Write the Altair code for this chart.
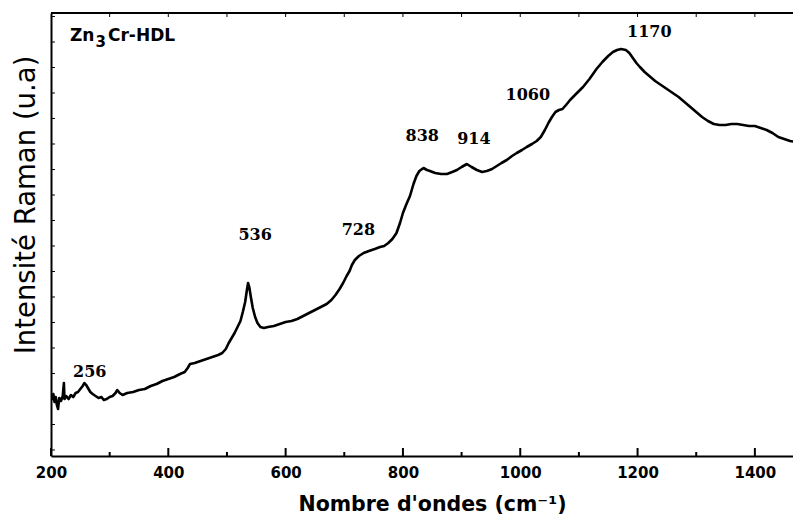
import altair as alt
import pandas as pd

# Raman spectrum (arbitrary intensity units)
wavenumber = [201, 204, 206, 208, 210, 212, 214, 217, 220, 222, 223, 226, 230, 234, 238, 242, 246, 250, 254, 257,
              260, 263, 267, 271, 276, 281, 286, 290, 295, 300, 305, 310, 313, 317, 322, 330, 340, 350, 360, 370,
              380, 390, 400, 410, 420, 428, 433, 437, 445, 455, 465, 475, 485, 492, 498, 503, 508, 513, 518, 523,
              527, 531, 534, 536, 538, 541, 544, 548, 552, 557, 563, 570, 580, 590, 600, 610, 620, 630, 640, 650,
              660, 670, 678, 685, 692, 698, 704, 709, 713, 718, 725, 733, 742, 752, 761, 768, 775, 782, 789, 795,
              800, 806, 812, 818, 823, 828, 835, 841, 846, 855, 865, 875, 884, 892, 900, 909, 917, 926, 935, 943,
              952, 960, 968, 977, 986, 994, 1003, 1011, 1020, 1028, 1035, 1042, 1048, 1054, 1060, 1066, 1072, 1078,
              1085, 1095, 1107, 1118, 1130, 1140, 1150, 1158, 1165, 1172, 1180, 1186, 1192, 1198, 1204, 1212, 1220,
              1230, 1240, 1250, 1260, 1270, 1280, 1290, 1300, 1310, 1320, 1330, 1340, 1350, 1360, 1370, 1380, 1390,
              1400, 1410, 1420, 1430, 1440, 1450, 1460, 1470, 1478]
intensity = [560, 620, 540, 590, 510, 470, 580, 550, 600, 730, 570, 600, 570, 610, 590, 630, 640, 670, 700, 730,
             710, 680, 640, 620, 600, 580, 590, 560, 570, 590, 600, 630, 660, 630, 610, 630, 640, 660, 670, 700,
             720, 750, 770, 790, 820, 840, 880, 920, 930, 950, 970, 990, 1010, 1030, 1070, 1130, 1180, 1230, 1290, 1350,
             1440, 1540, 1660, 1730, 1690, 1580, 1480, 1390, 1330, 1290, 1280, 1290, 1300, 1320, 1340, 1350, 1370, 1400, 1430, 1460,
             1490, 1520, 1560, 1610, 1670, 1730, 1800, 1850, 1910, 1960, 2000, 2030, 2050, 2070, 2090, 2100, 2130, 2170, 2230, 2330,
             2430, 2520, 2600, 2720, 2800, 2850, 2880, 2860, 2850, 2830, 2820, 2820, 2840, 2860, 2890, 2920, 2890, 2860, 2840, 2850,
             2870, 2900, 2930, 2960, 3000, 3030, 3060, 3090, 3120, 3150, 3190, 3260, 3330, 3390, 3440, 3460, 3470, 3510,
             3560, 3620, 3690, 3770, 3870, 3940, 4000, 4040, 4060, 4070, 4060, 4030, 3980, 3930, 3890, 3840, 3800,
             3750, 3710, 3670, 3630, 3590, 3540, 3490, 3440, 3390, 3350, 3320, 3310, 3310, 3320, 3320, 3310, 3300,
             3300, 3280, 3260, 3230, 3190, 3170, 3150, 3140, 3160]

peak_labels = ["256", "536", "728", "838", "914", "1060", "1170"]
peak_label_x = [266, 548, 724, 833, 921, 1013, 1220]
peak_label_y = [843, 2210, 2260, 3200, 3167, 3610, 4243]

x_major = [200, 400, 600, 800, 1000, 1200, 1400]
x_minor = [300, 500, 700, 900, 1100, 1300]
x_top = [300, 400, 500, 600, 700, 800, 900, 1000, 1100, 1200, 1300, 1400]
y_ticks = [60 + 255 * k for k in range(18)]

W, H = 742, 443
xs = alt.Scale(domain=[200, 1465], nice=False, zero=False)
ys = alt.Scale(domain=[0, 4430], nice=False, zero=False)

xaxis = alt.Axis(
    title="Nombre d'ondes (cm⁻¹)", values=x_major, format="d", ticks=False, tickSize=0, grid=False,
    domainColor="black", domainWidth=2, labelFont="DejaVu Sans", labelFontWeight="bold",
    labelFontSize=15, labelColor="black", labelPadding=9, labelFlush=False,
    titleFont="DejaVu Sans", titleFontSize=20.5, titleFontWeight="bold", titleColor="black",
    titleY=54, titleX=381, titleBaseline="alphabetic", titleAlign="center")
yaxis = alt.Axis(
    title="Intensité Raman (u.a)", labels=False, ticks=False, tickSize=0, grid=False,
    domainColor="black", domainWidth=2, titleFont="DejaVu Sans", titleFontSize=27.5,
    titleFontWeight="normal", titleColor="black", titleX=-17, titleY=191.5, titleAngle=270,
    titleBaseline="alphabetic", titleAlign="center")


def X(field):
    return alt.X(field, scale=xs, axis=xaxis)


def Y(field):
    return alt.Y(field, scale=ys, axis=yaxis)


spec = pd.DataFrame({"w": wavenumber, "i": intensity})

line = alt.Chart(spec).mark_line(color="black", strokeWidth=2.6, clip=True, strokeJoin="round").encode(
    x=X("w:Q"), y=Y("i:Q"))

maj = alt.Chart(pd.DataFrame({"w": x_major})).mark_rule(color="black", strokeWidth=2).encode(
    x=X("w:Q"), y=alt.value(H - 8), y2=alt.value(H))
mnr = alt.Chart(pd.DataFrame({"w": x_minor})).mark_rule(color="black", strokeWidth=2).encode(
    x=X("w:Q"), y=alt.value(H - 4), y2=alt.value(H))
top = alt.Chart(pd.DataFrame({"w": x_top})).mark_rule(color="black", strokeWidth=1).encode(
    x=X("w:Q"), y=alt.value(0), y2=alt.value(4))
left = alt.Chart(pd.DataFrame({"i": y_ticks})).mark_rule(color="black", strokeWidth=1).encode(
    y=Y("i:Q"), x=alt.value(0), x2=alt.value(4))
border = alt.Chart(pd.DataFrame({"t": [0]})).mark_rule(color="black", strokeWidth=2).encode(
    x=alt.value(0), x2=alt.value(W + 10), y=alt.value(0))

peaks = alt.Chart(pd.DataFrame({"lab": peak_labels, "w": peak_label_x, "i": peak_label_y})).mark_text(
    font="DejaVu Serif", fontWeight="bold", fontSize=16, color="black", baseline="middle", align="center"
).encode(x=X("w:Q"), y=Y("i:Q"), text="lab:N")

sample_parts = ["Zn", "3", "Cr-HDL"]
sample_x = [232.4, 275.9, 297.2]
sample_y = [4150, 4095, 4150]
sample_size = [17, 15, 17]
parts = []
for k in range(3):
    parts.append(alt.Chart(pd.DataFrame({"lab": [sample_parts[k]], "w": [sample_x[k]], "i": [sample_y[k]]})).mark_text(
        font="DejaVu Sans", fontWeight="bold", fontSize=sample_size[k], color="black",
        baseline="alphabetic", align="left"
    ).encode(x=X("w:Q"), y=Y("i:Q"), text="lab:N"))

chart = alt.layer(line, maj, mnr, top, left, border, peaks, *parts).properties(
    width=W, height=H,
    autosize=alt.AutoSizeParams(type="none"),
    padding={"left": 43, "top": 5, "right": 0, "bottom": 58},
).configure_view(strokeWidth=0)

chart.save("out.html", embed_options={"renderer": "svg", "actions": False})
